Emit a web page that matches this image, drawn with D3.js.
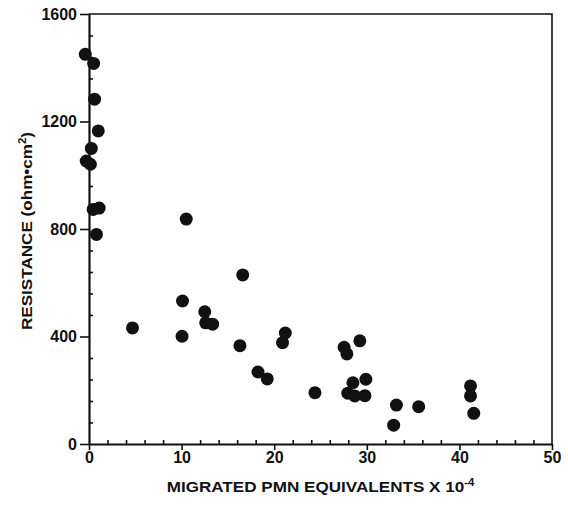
<!DOCTYPE html>
<html>
<head>
<meta charset="utf-8">
<script src="https://cdn.jsdelivr.net/npm/d3@7"></script>
<style>
body { margin: 0; background: #fff; }
svg text { font-family: "Liberation Sans", Arial, sans-serif; font-weight: bold; fill: #111; }
</style>
</head>
<body>
<div id="canvas"></div>
<script>
// migrated PMN equivalents (x 10^-4)
var pmn = [-0.4, 0.5, 0.6, 1.0, 0.25, -0.3, 0.15, 0.45, 1.1, 0.8,
    10.5, 16.6, 10.1, 4.7, 12.5, 12.6, 13.35, 10.05, 16.3, 18.25,
    19.25, 21.2, 20.9, 24.4, 27.55, 27.85, 29.25, 28.5, 29.9, 27.95,
    28.7, 29.8, 33.2, 32.9, 35.6, 41.2, 41.2, 41.55]
// resistance (ohm*cm^2)
var resistance = [1450, 1416, 1283, 1165, 1100, 1053, 1041, 873, 878, 780,
    837, 629, 532, 432, 492, 451, 446, 401, 366, 268,
    242, 413, 377, 191, 360, 335, 384, 228, 241, 189,
    179, 180, 145, 70, 139, 216, 179, 114]
var xTicks = [0, 10, 20, 30, 40, 50]
var yTicks = [0, 400, 800, 1200, 1600]

var width = 568
var height = 505
var margin = {left: 89, right: 16, top: 14, bottom: 61}

var svg = d3.select("#canvas").append("svg")
    .attr("width", width)
    .attr("height", height)

var x = d3.scaleLinear().domain([0, 50]).range([margin.left, width - margin.right])
var y = d3.scaleLinear().domain([0, 1600]).range([height - margin.bottom, margin.top])

// box (top and right)
svg.append("path")
    .attr("d", "M" + x(0) + "," + y(1600) + "H" + x(50) + "V" + y(0))
    .attr("fill", "none")
    .attr("stroke", "#111")
    .attr("stroke-width", 1.6)

// minor ticks, pointing inward
var xMinor = d3.range(0, 51, 2).filter(function(d) { return d % 10 != 0 })
var yMinor = d3.range(0, 1601, 80).filter(function(d) { return d % 400 != 0 })

svg.append("g")
    .attr("transform", "translate(0," + y(0) + ")")
    .call(d3.axisTop(x).tickValues(xMinor).tickSize(4).tickFormat(""))
    .call(function(g) { g.select(".domain").remove() })
svg.append("g")
    .attr("transform", "translate(" + x(0) + ",0)")
    .call(d3.axisRight(y).tickValues(yMinor).tickSize(4).tickFormat(""))
    .call(function(g) { g.select(".domain").remove() })

// main axes
svg.append("g")
    .attr("transform", "translate(0," + y(0) + ")")
    .call(d3.axisBottom(x).tickValues(xTicks).tickFormat(d3.format("d"))
        .tickSize(6).tickSizeOuter(0).tickPadding(2))
svg.append("g")
    .attr("transform", "translate(" + x(0) + ",0)")
    .call(d3.axisLeft(y).tickValues(yTicks).tickFormat(d3.format("d"))
        .tickSize(9).tickSizeOuter(0).tickPadding(3))

svg.selectAll(".tick line").attr("stroke", "#111").attr("stroke-width", 1.6)
svg.selectAll(".domain").attr("stroke", "#111").attr("stroke-width", 2.2)
svg.selectAll(".tick text").style("font-size", "16px").attr("fill", "#111")

// points
svg.append("g").selectAll("circle")
    .data(pmn)
    .enter().append("circle")
    .attr("cx", function(d) { return x(d) })
    .attr("cy", function(d, i) { return y(resistance[i]) })
    .attr("r", 6.5)
    .attr("fill", "#111")

// axis titles (original type is a wide bold grotesque, so stretch a bit)
var xTitle = svg.append("g")
    .attr("transform", "translate(" + x(25) + ",492) scale(1.14,1)")
    .append("text")
    .attr("text-anchor", "middle")
    .style("font-size", "15px")
xTitle.append("tspan").text("MIGRATED PMN EQUIVALENTS X 10")
xTitle.append("tspan").attr("dy", -6).style("font-size", "10px").text("-4")

var yTitle = svg.append("g")
    .attr("transform", "translate(32,231) rotate(-90) scale(1.14,1)")
    .append("text")
    .attr("text-anchor", "middle")
    .style("font-size", "15px")
yTitle.append("tspan").text("RESISTANCE (ohm\u2022cm")
yTitle.append("tspan").attr("dy", -6).style("font-size", "10px").text("2")
yTitle.append("tspan").attr("dy", 6).text(")")
</script>
</body>
</html>
